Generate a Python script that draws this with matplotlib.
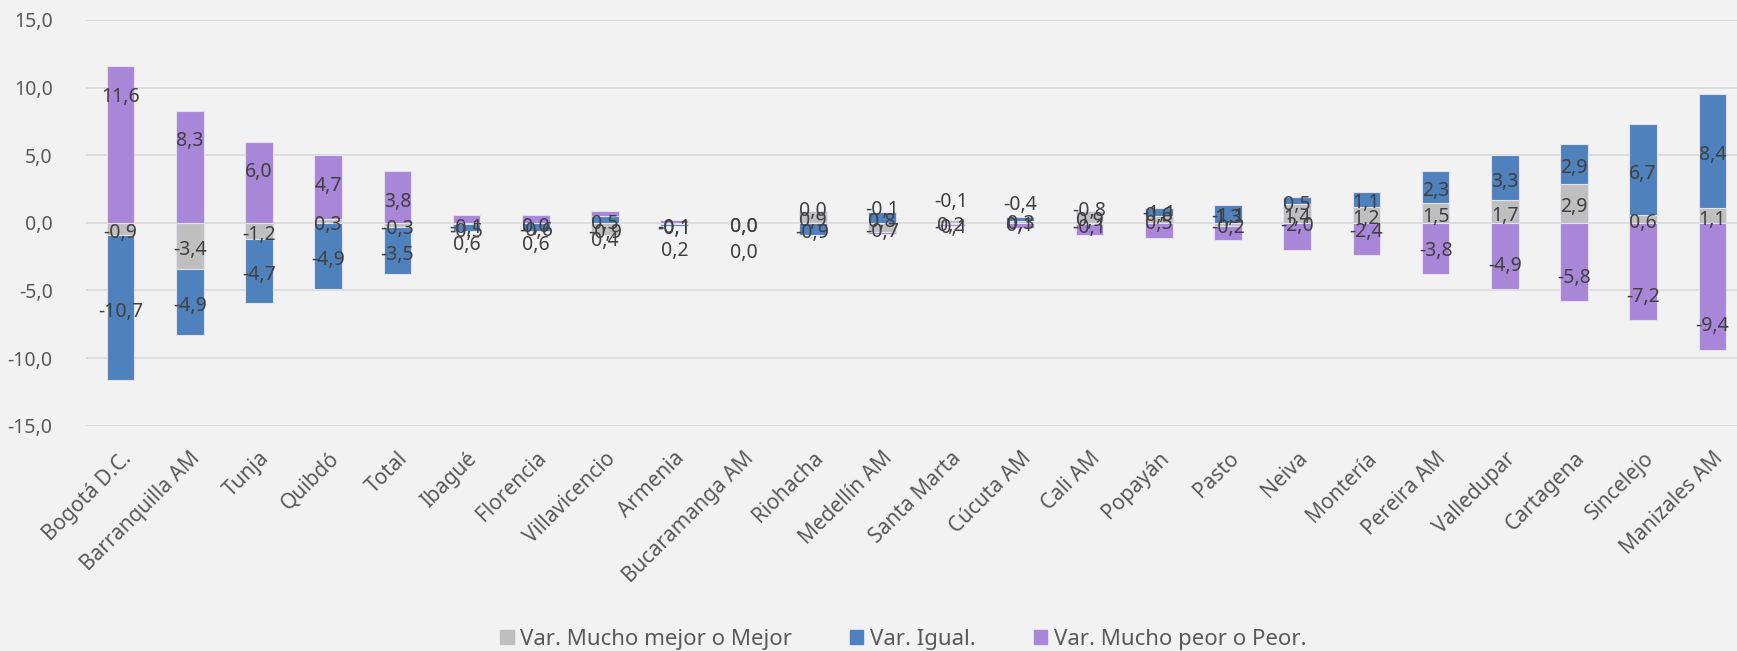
import numpy as np
import matplotlib
matplotlib.use('Agg')
import matplotlib.pyplot as plt
from matplotlib.patches import Patch

plt.rcParams['font.family'] = ['Noto Sans', 'DejaVu Sans']

# values
cities = ['Bogotá D.C.', 'Barranquilla AM', 'Tunja', 'Quibdó', 'Total', 'Ibagué',
          'Florencia', 'Villavicencio', 'Armenia', 'Bucaramanga AM', 'Riohacha',
          'Medellín AM', 'Santa Marta', 'Cúcuta AM', 'Cali AM', 'Popayán', 'Pasto',
          'Neiva', 'Montería', 'Pereira AM', 'Valledupar', 'Cartagena', 'Sincelejo',
          'Manizales AM']
mejor = [-0.9, -3.4, -1.2, 0.3, -0.3, -0.1, 0.0, -0.9, -0.1, 0.0, 0.9, -0.7,
         0.2, 0.1, 0.9, 0.5, -0.2, 1.4, 1.2, 1.5, 1.7, 2.9, 0.6, 1.1]
igual = [-10.7, -4.9, -4.7, -4.9, -3.5, -0.5, -0.6, 0.5, -0.1, 0.0, -0.9, 0.8,
         -0.1, 0.3, -0.1, 0.6, 1.3, 0.5, 1.1, 2.3, 3.3, 2.9, 6.7, 8.4]
peor = [11.6, 8.3, 6.0, 4.7, 3.8, 0.6, 0.6, 0.4, 0.2, 0.0, -0.0, -0.1,
        -0.1, -0.4, -0.8, -1.1, -1.1, -2.0, -2.4, -3.8, -4.9, -5.8, -7.2, -9.4]
series_names = ['Var. Mucho mejor o Mejor', 'Var. Igual.', 'Var. Mucho peor o Peor.']
colors = ['#bfbfbf', '#4f81bd', '#a886d8']

W, H = 1737, 651
fig = plt.figure(figsize=(W / 100, H / 100), dpi=100, facecolor='#f2f2f2')
ax = fig.add_axes([86 / W, 1 - 425.7 / H, (1747 - 86) / W, (425.7 - 20) / H])
ax.set_facecolor('#f2f2f2')

x = np.arange(len(cities))
pos = np.zeros(len(cities))
neg = np.zeros(len(cities))
txt = dict(fontsize=14, color='#404040', ha='center', va='center')


def fmt(v):
    return f'{v + 0.0:.1f}'.replace('.', ',')


for k, vals in enumerate([mejor, igual, peor]):
    vals = np.array(vals)
    isneg = np.signbit(vals)
    bottom = np.where(isneg, neg, pos)
    ax.bar(x, vals, 0.4, bottom=bottom, color=colors[k], edgecolor='#e4e0ee',
           linewidth=0.8, zorder=2)
    for i, v in enumerate(vals):
        if k < 2:
            ax.annotate(fmt(v), (x[i], bottom[i] + v / 2), xytext=(0, -3),
                        textcoords='offset points', **txt)
        else:
            # the purple labels sit a fixed distance inside the bar end
            off = 17 if isneg[i] else -22
            ax.annotate(fmt(v), (x[i], bottom[i] + v), xytext=(0, off),
                        textcoords='offset points', **txt)
    pos = np.where(isneg, pos, pos + vals)
    neg = np.where(isneg, neg + vals, neg)

ax.set_xlim(-0.5, len(cities) - 0.5)
ax.set_ylim(-15, 15)
ax.set_yticks(np.arange(-15, 16, 5))
ax.set_yticklabels([fmt(t) for t in np.arange(-15, 16, 5)])
ax.set_xticks(x)
ax.set_xticklabels(cities, rotation=45, ha='right', rotation_mode='anchor')
ax.tick_params(axis='y', length=0, pad=24, labelsize=14, labelcolor='#595959')
ax.tick_params(axis='x', length=0, pad=16, labelsize=15, labelcolor='#595959')
ax.grid(axis='y', color='#d9d9d9', linewidth=1.2, zorder=0)
ax.set_axisbelow(True)
for s in ax.spines.values():
    s.set_visible(False)

handles = [Patch(color=c) for c in colors]
fig.legend(handles, series_names, loc='center', bbox_to_anchor=(0.52, 1 - 639 / H),
           ncol=3, frameon=False, fontsize=16, labelcolor='#595959',
           handlelength=0.6, handleheight=0.6, handletextpad=0.3, columnspacing=2.6)

fig.savefig('out.png', dpi=100, facecolor=fig.get_facecolor())
